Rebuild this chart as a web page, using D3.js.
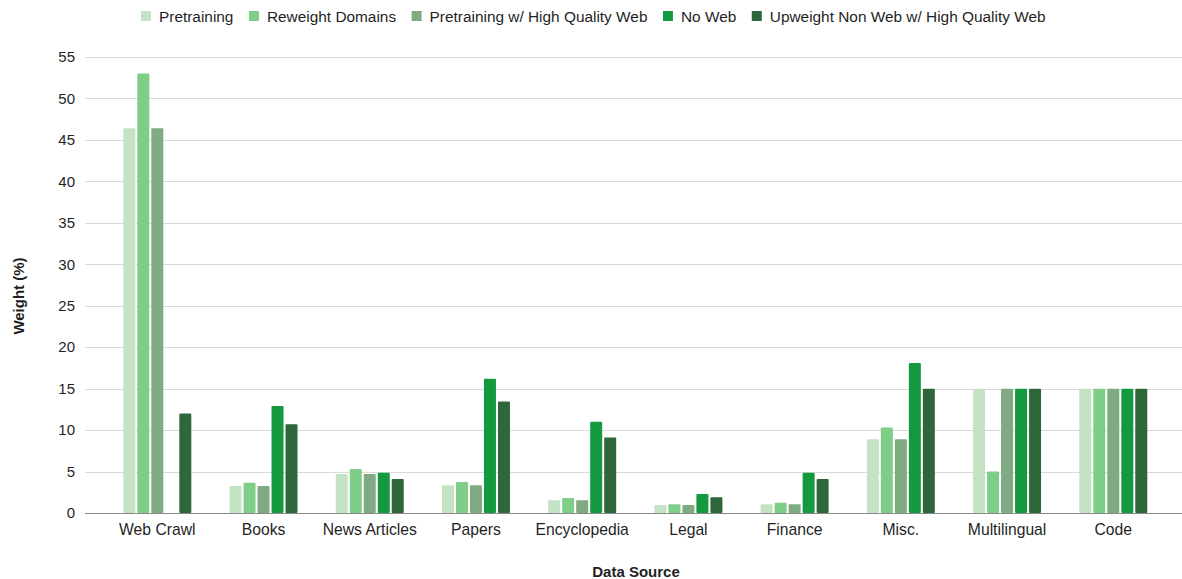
<!DOCTYPE html>
<html>
<head>
<meta charset="utf-8">
<script src="https://cdn.jsdelivr.net/npm/d3@7"></script>
<style>
  html, body { margin: 0; padding: 0; background: #fff; }
  svg { display: block; font-family: "Liberation Sans", Arial, sans-serif; }
</style>
</head>
<body>
<svg id="chart" width="1182" height="579"></svg>
<script>
const categories = ["Web Crawl", "Books", "News Articles", "Papers", "Encyclopedia", "Legal", "Finance", "Misc.", "Multilingual", "Code"];
const seriesNames = ["Pretraining", "Reweight Domains", "Pretraining w/ High Quality Web", "No Web", "Upweight Non Web w/ High Quality Web"];
const pretraining     = [46.4, 3.25, 4.7, 3.35, 1.55, 0.95, 1.05, 8.9, 15, 15];
const reweightDomains = [53.0, 3.65, 5.3, 3.75, 1.8, 1.05, 1.25, 10.3, 5, 15];
const pretrainingHQ   = [46.4, 3.25, 4.7, 3.35, 1.55, 0.95, 1.05, 8.9, 15, 15];
const noWeb           = [0, 12.9, 4.85, 16.2, 11.0, 2.3, 4.85, 18.1, 15, 15];
const upweightNonWeb  = [12.0, 10.7, 4.1, 13.45, 9.1, 1.9, 4.1, 15.0, 15, 15];
const yTicks = [0, 5, 10, 15, 20, 25, 30, 35, 40, 45, 50, 55];
const colors = ["#c4e2c4", "#7fce87", "#80aa81", "#15993f", "#2d673a"];

const seriesValues = [pretraining, reweightDomains, pretrainingHQ, noWeb, upweightNonWeb];

const svg = d3.select("#chart");
const plotLeft = 85, plotRight = 1182, plotBottom = 513, plotTop = 57;

const x0 = d3.scaleBand().domain(categories).range([104.2, 1166.4]).paddingInner(0).paddingOuter(0);
const x1 = d3.scaleBand().domain(seriesNames).range([-34, 34]).paddingInner(2 / 14).paddingOuter(0);
const y = d3.scaleLinear().domain([0, 55]).range([plotBottom, plotTop]);

// gridlines
svg.append("g").selectAll("line").data(yTicks.filter(d => d !== 0)).join("line")
  .attr("x1", plotLeft).attr("x2", plotRight)
  .attr("y1", d => Math.round(y(d)) + 0.5).attr("y2", d => Math.round(y(d)) + 0.5)
  .attr("stroke", "#dadada").attr("stroke-width", 1);

// y axis labels
const yAxis = d3.axisLeft(y).tickValues(yTicks).tickSize(0).tickPadding(10);
const yg = svg.append("g").attr("transform", `translate(${plotLeft},0)`).call(yAxis);
yg.select(".domain").remove();
yg.selectAll("text").attr("font-size", 15).attr("fill", "#1f1f1f").attr("font-family", "Liberation Sans, Arial, sans-serif");

// bars
const groups = svg.append("g").selectAll("g").data(categories).join("g")
  .attr("transform", d => `translate(${x0(d) + x0.bandwidth() / 2},0)`);
groups.selectAll("rect").data((c, i) => seriesNames.map((s, j) => ({ s, j, v: seriesValues[j][i] })))
  .join("rect")
  .filter(d => d.v > 0)
  .attr("x", d => x1(d.s))
  .attr("width", x1.bandwidth())
  .attr("y", d => y(d.v))
  .attr("height", d => plotBottom - y(d.v))
  .attr("rx", 1)
  .attr("fill", d => colors[d.j]);

// x axis baseline
svg.append("line").attr("x1", plotLeft).attr("x2", plotRight)
  .attr("y1", plotBottom + 0.5).attr("y2", plotBottom + 0.5)
  .attr("stroke", "#888").attr("stroke-width", 1);

// x axis labels
const xAxis = d3.axisBottom(x0).tickSize(0).tickPadding(11);
const xg = svg.append("g").attr("transform", `translate(0,${plotBottom})`).call(xAxis);
xg.select(".domain").remove();
xg.selectAll("text").attr("font-size", 15.7).attr("fill", "#1f1f1f").attr("font-family", "Liberation Sans, Arial, sans-serif");

// axis titles
svg.append("text").attr("x", 636).attr("y", 577).attr("text-anchor", "middle")
  .attr("font-size", 15).attr("font-weight", "bold").attr("fill", "#1f1f1f").text("Data Source");
svg.append("text").attr("transform", "translate(24,296) rotate(-90)").attr("text-anchor", "middle")
  .attr("font-size", 15).attr("font-weight", "bold").attr("fill", "#1f1f1f").text("Weight (%)");

// legend
const legend = svg.append("g");
let lx = 141;
seriesNames.forEach((name, i) => {
  legend.append("rect").attr("x", lx).attr("y", 11).attr("width", 10).attr("height", 10).attr("fill", colors[i]);
  const t = legend.append("text").attr("x", lx + 18).attr("y", 21.5).attr("font-size", 15.4).attr("fill", "#1f1f1f").text(name);
  const w = t.node().getComputedTextLength();
  lx = lx + 18 + w + 15.5;
});
</script>
</body>
</html>
